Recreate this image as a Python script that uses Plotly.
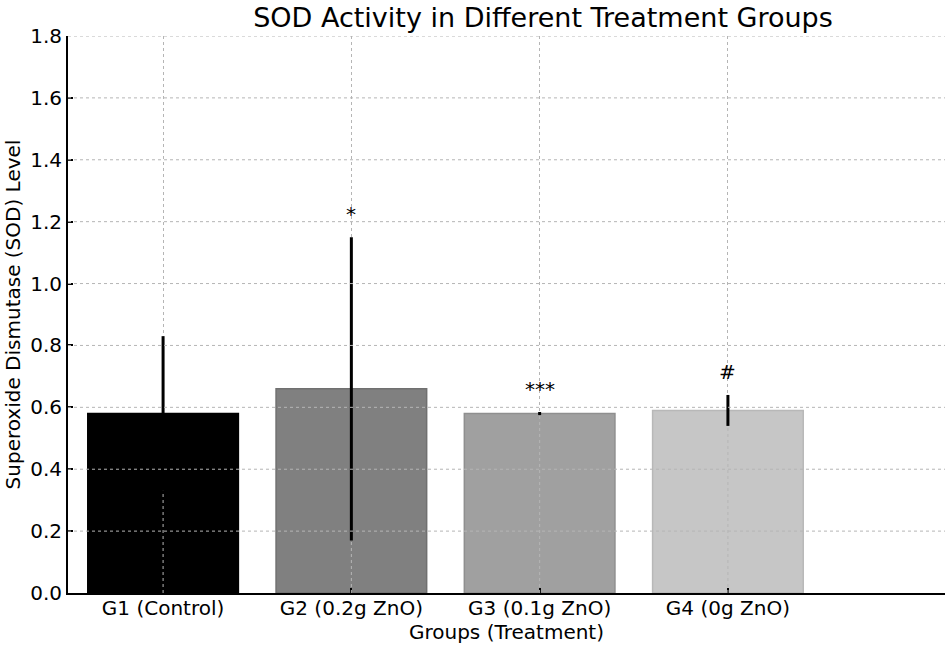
import plotly.graph_objects as go

groups = ["G1 (Control)", "G2 (0.2g ZnO)", "G3 (0.1g ZnO)", "G4 (0g ZnO)"]
sod_mean = [0.58, 0.66, 0.58, 0.59]
sod_err = [0.25, 0.49, 0.005, 0.05]
sig_marks = ["", "*", "***", "#"]
y_ticks = [0.0, 0.2, 0.4, 0.6, 0.8, 1.0, 1.2, 1.4, 1.6, 1.8]

bar_colors = ["#000000", "#808080", "#a0a0a0", "#c6c6c6"]
edge_colors = ["#000000", "#707070", "#8f8f8f", "#b8b8b8"]

FONT = "DejaVu Sans"
GRID = "#b5b5b5"

fig = go.Figure()
fig.add_trace(go.Bar(
    x=groups, y=sod_mean, width=0.8,
    marker=dict(color=bar_colors, line=dict(color=edge_colors, width=1.5)),
    error_y=dict(type="data", array=sod_err, visible=True,
                 color="black", thickness=3, width=0),
    showlegend=False, hoverinfo="skip",
))

for g, m, e, s in zip(groups, sod_mean, sod_err, sig_marks):
    if s:
        fig.add_annotation(x=g, y=m + e + 0.03, text=s, showarrow=False,
                           yanchor="bottom", xanchor="center",
                           font=dict(family=FONT, size=20, color="black"))

# grid drawn over the bars (as in the reference), but under the error bars
for t in y_ticks[1:]:
    fig.add_shape(type="line", xref="paper", yref="y", x0=0, x1=1, y0=t, y1=t,
                  line=dict(color=GRID, width=1, dash="dot"), layer="above")
for g, m, e in zip(groups, sod_mean, sod_err):
    fig.add_shape(type="line", xref="x", yref="y", x0=g, x1=g, y0=0, y1=m - e,
                  line=dict(color=GRID, width=1, dash="dot"), layer="above")

fig.update_layout(
    width=945, height=646,
    margin=dict(l=68, r=0, t=36, b=53),
    paper_bgcolor="white", plot_bgcolor="white",
    font=dict(family=FONT, size=20, color="black"),
    title=dict(text="SOD Activity in Different Treatment Groups",
               x=543 / 945, xanchor="center", xref="container",
               y=1 - 18 / 646, yanchor="middle", yref="container",
               font=dict(family=FONT, size=27, color="black")),
)
fig.update_xaxes(
    type="category", range=[-0.505, 4.153], automargin=False,
    showline=True, linecolor="black", linewidth=2, mirror=False,
    showgrid=True, gridcolor=GRID, gridwidth=1, griddash="dot",
    ticks="inside", ticklen=5, tickcolor="black", tickwidth=1.5,
    ticklabelstandoff=-4,
    tickfont=dict(family=FONT, size=20, color="black"),
    title=dict(text="Groups (Treatment)", standoff=0,
               font=dict(family=FONT, size=20, color="black")),
    layer="above traces", zeroline=False,
)
fig.update_yaxes(
    range=[0, 1.8], tickvals=y_ticks, tickformat=".1f", automargin=False,
    showline=True, linecolor="black", linewidth=2, mirror=False,
    showgrid=False,
    ticks="inside", ticklen=5, tickcolor="black", tickwidth=1.5,
    tickfont=dict(family=FONT, size=20, color="black"),
    title=dict(text="Superoxide Dismutase (SOD) Level", standoff=4,
               font=dict(family=FONT, size=20, color="black")),
    layer="above traces", zeroline=False,
)

fig.write_html("out.html",
               config={"displayModeBar": False},
               post_script="document.body.style.margin='0';"
                           "document.body.style.overflow='hidden';")
